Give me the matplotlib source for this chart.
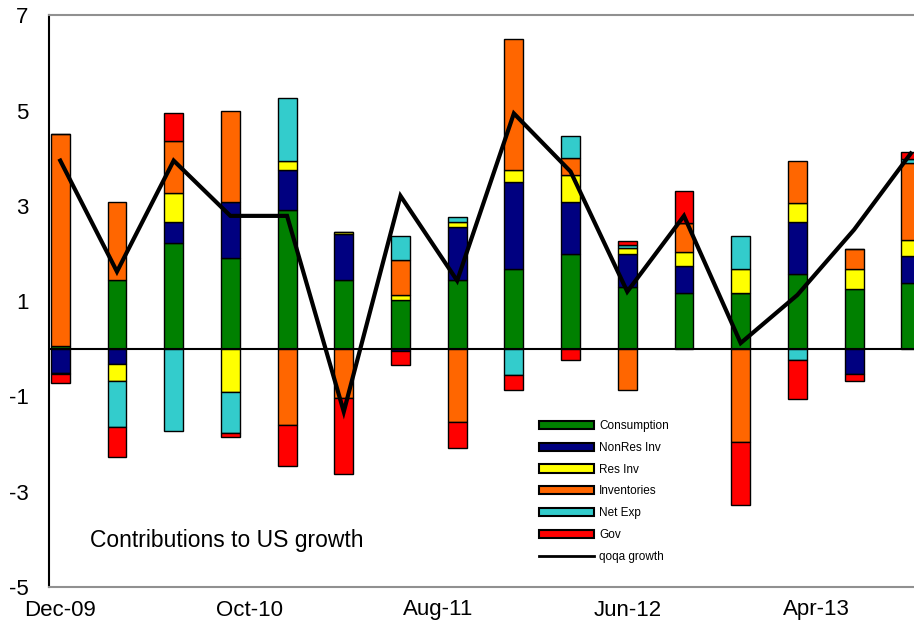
import numpy as np
import matplotlib
matplotlib.use('Agg')
import matplotlib.pyplot as plt
from matplotlib.patches import Patch
from matplotlib.lines import Line2D

plt.rcParams['font.family'] = ['Liberation Sans', 'DejaVu Sans']
plt.rcParams['axes.unicode_minus'] = False

# quarters as months after Dec-09
quarters = ['Dec-09', 'Mar-10', 'Jun-10', 'Sep-10', 'Dec-10', 'Mar-11', 'Jun-11', 'Sep-11',
            'Dec-11', 'Mar-12', 'Jun-12', 'Sep-12', 'Dec-12', 'Mar-13', 'Jun-13', 'Sep-13']
months = np.arange(len(quarters)) * 3

consumption = [0.05, 1.45, 2.22, 1.91, 2.91, 1.45, 1.03, 1.45, 1.67, 2.00, 1.30, 1.18, 1.18, 1.58, 1.25, 1.39]
nonres_inv = [-0.50, -0.32, 0.45, 1.18, 0.85, 0.95, -0.05, 1.10, 1.83, 1.09, 0.70, 0.55, 0.00, 1.09, -0.53, 0.56]
res_inv = [-0.03, -0.35, 0.59, -0.90, 0.19, 0.05, 0.10, 0.12, 0.26, 0.55, 0.12, 0.31, 0.49, 0.38, 0.42, 0.33]
inventories = [4.45, 1.64, 1.10, 1.91, -1.60, -1.04, 0.73, -1.54, 2.75, 0.36, -0.86, 0.60, -1.96, 0.90, 0.42, 1.62]
net_exp = [0.00, -0.97, -1.72, -0.86, 1.32, 0.00, 0.50, 0.10, -0.55, 0.46, 0.06, 0.00, 0.69, -0.23, 0.00, 0.08]
gov = [-0.19, -0.64, 0.59, -0.10, -0.85, -1.59, -0.29, -0.55, -0.31, -0.23, 0.09, 0.68, -1.32, -0.82, -0.14, 0.15]
qoqa_growth = [3.95, 1.62, 3.95, 2.79, 2.79, -1.32, 3.21, 1.43, 4.94, 3.72, 1.20, 2.79, 0.12, 1.13, 2.50, 4.10]

series_names = ['Consumption', 'NonRes Inv', 'Res Inv', 'Inventories', 'Net Exp', 'Gov']
series_colors = ['#008000', '#000080', '#FFFF00', '#FF6600', '#33CCCC', '#FF0000']

tick_months = [0, 10, 20, 30, 40]
tick_labels = ['Dec-09', 'Oct-10', 'Aug-11', 'Jun-12', 'Apr-13']

fig = plt.figure(figsize=(9.14, 6.24), dpi=100)
ax = fig.add_axes([49.3 / 914, 37 / 624, 1 - 49.3 / 914, 571.7 / 624])

# stacked bars, positives up and negatives down (Excel style)
pos_bottom = np.zeros(len(quarters))
neg_bottom = np.zeros(len(quarters))
for vals, color in zip([consumption, nonres_inv, res_inv, inventories, net_exp, gov], series_colors):
    vals = np.array(vals)
    bottoms = np.where(vals >= 0, pos_bottom, neg_bottom)
    ax.bar(months, vals, bottom=bottoms, width=1.0, color=color,
           edgecolor='black', linewidth=1.0, zorder=2)
    pos_bottom += np.where(vals >= 0, vals, 0)
    neg_bottom += np.where(vals < 0, vals, 0)

ax.axhline(0, color='black', linewidth=1.5, zorder=3)
ax.plot(months, qoqa_growth, color='black', linewidth=3, zorder=4, solid_joinstyle='miter')

ax.set_xlim(-0.58, 45.17)
ax.set_ylim(-5, 7)
ax.set_yticks([-5, -3, -1, 1, 3, 5, 7])
ax.set_xticks(tick_months)
ax.set_xticklabels(tick_labels)
ax.tick_params(axis='both', length=0, labelsize=16)
ax.tick_params(axis='y', pad=15)
ax.tick_params(axis='x', pad=9)

ax.spines['right'].set_visible(False)
ax.spines['left'].set_color('black')
ax.spines['left'].set_linewidth(1.5)
ax.spines['top'].set_color('#909090')
ax.spines['top'].set_linewidth(1.5)
ax.spines['bottom'].set_color('#909090')
ax.spines['bottom'].set_linewidth(1.5)

ax.text(0.047, 0.082, 'Contributions to US growth', transform=ax.transAxes,
        fontsize=16.5, va='center', ha='left')

handles = [Patch(facecolor=c, edgecolor='black', linewidth=1.5) for c in series_colors]
handles.append(Line2D([0], [0], color='black', linewidth=2))
labels = series_names + ['qoqa growth']
fig.legend(handles, labels, loc='upper left', bbox_to_anchor=(539 / 914, 1 - 420 / 624),
           bbox_transform=fig.transFigure, frameon=False, fontsize=8.5,
           handlelength=4.7, handleheight=0.7, handletextpad=0.4,
           labelspacing=0.83, borderpad=0, borderaxespad=0)

fig.savefig('out.png', dpi=100)
